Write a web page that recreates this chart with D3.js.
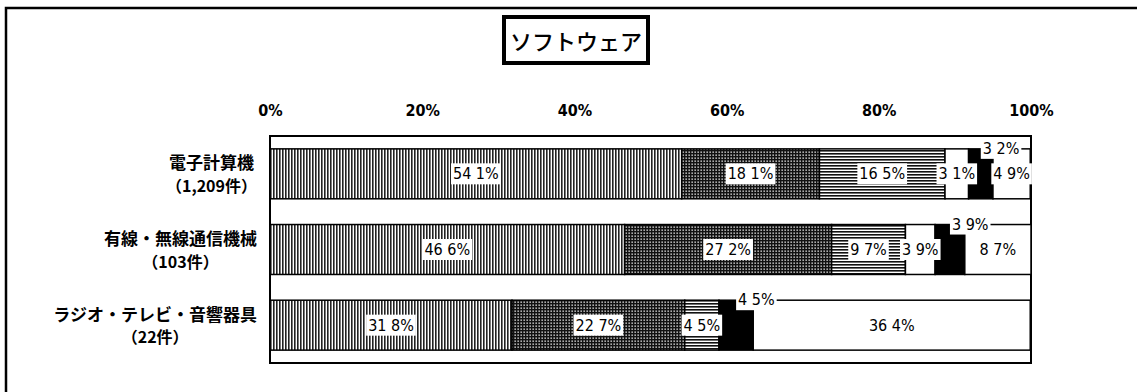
<!DOCTYPE html>
<html lang="ja">
<head>
<meta charset="UTF-8">
<title>ソフトウェア</title>
<script src="https://d3js.org/d3.v7.min.js"></script>
<style>
  body { margin: 0; background: #fff; }
  .jp { font-family: "Noto Sans CJK JP", sans-serif; }
  .num { font-family: "DejaVu Sans Condensed", "Liberation Sans", sans-serif; font-stretch: condensed; }
</style>
</head>
<body>
<svg id="chart"></svg>
<script>
// data
const categories = ["電子計算機", "有線・無線通信機械", "ラジオ・テレビ・音響器具"];
const counts = ["（1,209件）", "（103件）", "（22件）"];
const s1 = [54.1, 46.6, 31.8];
const s2 = [18.1, 27.2, 22.7];
const s3 = [16.5, 9.7, 4.5];
const s4 = [3.1, 3.9, 0];
const s5 = [3.2, 3.9, 4.5];
const s6 = [4.9, 8.7, 36.4];
const tickValues = [0, 20, 40, 60, 80, 100];
const title = "ソフトウェア";

const series = [s1, s2, s3, s4, s5, s6];
const fills = ["url(#vstripe)", "url(#grid)", "url(#hstripe)", "#fff", "#000", "#fff"];

const width = 1137, height = 392;
const plot = { left: 270, right: 1031, top: 136, bottom: 363 };

const svg = d3.select("#chart").attr("width", width).attr("height", height);

// patterns
const defs = svg.append("defs");
const pv = defs.append("pattern").attr("id", "vstripe")
  .attr("patternUnits", "userSpaceOnUse").attr("width", 3).attr("height", 8);
pv.append("rect").attr("width", 3).attr("height", 8).attr("fill", "#fff");
pv.append("rect").attr("width", 1.6).attr("height", 8).attr("fill", "#222");

const pg = defs.append("pattern").attr("id", "grid")
  .attr("patternUnits", "userSpaceOnUse").attr("width", 3).attr("height", 3);
pg.append("rect").attr("width", 3).attr("height", 3).attr("fill", "#111");
pg.append("rect").attr("x", 1.5).attr("y", 1.5).attr("width", 1.3).attr("height", 1.3).attr("fill", "#fff");

const ph = defs.append("pattern").attr("id", "hstripe")
  .attr("patternUnits", "userSpaceOnUse").attr("width", 8).attr("height", 3);
ph.append("rect").attr("width", 8).attr("height", 3).attr("fill", "#fff");
ph.append("rect").attr("width", 8).attr("height", 1.6).attr("fill", "#111");

// outer frame (runs off the right and bottom)
svg.append("rect").attr("x", 6).attr("y", 8).attr("width", 1150).attr("height", 400)
  .attr("fill", "none").attr("stroke", "#000").attr("stroke-width", 2.5);

// title box
const tg = svg.append("g");
tg.append("rect").attr("x", 504).attr("y", 17).attr("width", 144).attr("height", 46)
  .attr("fill", "#fff").attr("stroke", "#000").attr("stroke-width", 4);
tg.append("text").attr("class", "jp").attr("x", 576).attr("y", 40)
  .attr("text-anchor", "middle").attr("dominant-baseline", "central")
  .attr("font-size", 22).attr("font-weight", 500).text(title);

// scales
const x = d3.scaleLinear().domain([0, 100]).range([plot.left, plot.right]);
const y = d3.scaleBand().domain(d3.range(categories.length))
  .range([plot.top, plot.bottom]).paddingInner(0.34).paddingOuter(0.17);

// top axis labels
const axis = d3.axisTop(x).tickValues(tickValues).tickSize(0).tickFormat(d => d + "%");
svg.append("g").attr("transform", `translate(0,${119})`).call(axis)
  .call(g => g.select(".domain").remove())
  .selectAll("text").attr("class", "num").attr("font-size", 16)
  .attr("font-weight", "bold").attr("fill", "#000");

// plot frame
svg.append("rect").attr("x", plot.left).attr("y", plot.top)
  .attr("width", plot.right - plot.left).attr("height", plot.bottom - plot.top)
  .attr("fill", "#fff").attr("stroke", "#000").attr("stroke-width", 2);

// stacked segments
const segs = [];
categories.forEach((c, i) => {
  let acc = 0;
  series.forEach((s, k) => {
    segs.push({ row: i, k: k, v: s[i], x0: acc, x1: acc + s[i] });
    acc += s[i];
  });
});

svg.append("g").selectAll("rect").data(segs.filter(d => d.v > 0)).join("rect")
  .attr("x", d => x(d.x0)).attr("y", d => y(d.row))
  .attr("width", d => x(d.x1) - x(d.x0)).attr("height", y.bandwidth())
  .attr("fill", d => fills[d.k]).attr("stroke", "#000").attr("stroke-width", 1.5);

// value labels
const fmt = v => d3.format(".1f")(v).replace(".", " ") + "%";
const lg = svg.append("g");
segs.filter(d => d.v > 0).forEach(d => {
  const g = lg.append("g");
  const outside = d.k === 4;
  const t = g.append("text").attr("class", "num").attr("font-size", 16).attr("fill", "#000")
    .text(fmt(d.v));
  if (outside) {
    t.attr("x", x((d.x0 + d.x1) / 2) + 2).attr("y", y(d.row) + 5).attr("text-anchor", "start");
  } else {
    t.attr("x", x((d.x0 + d.x1) / 2)).attr("y", y(d.row) + y.bandwidth() / 2)
      .attr("text-anchor", "middle").attr("dominant-baseline", "central");
  }
  const b = t.node().getBBox();
  g.insert("rect", "text").attr("x", b.x - 2).attr("y", b.y - 1)
    .attr("width", b.width + 4).attr("height", b.height + 2).attr("fill", "#fff");
});

// category labels, two centred lines, block right-aligned
const cg = svg.append("g");
categories.forEach((c, i) => {
  const cy = y(i) + y.bandwidth() / 2;
  const g = cg.append("g");
  const t1 = g.append("text").attr("class", "jp").attr("font-size", 17).attr("font-weight", "bold")
    .attr("y", cy - 12).attr("dominant-baseline", "central").attr("text-anchor", "middle").text(c);
  const t2 = g.append("text").attr("class", "jp").attr("font-size", 16).attr("font-weight", "bold")
    .attr("y", cy + 11).attr("dominant-baseline", "central").attr("text-anchor", "middle").text(counts[i]);
  const w = Math.max(t1.node().getComputedTextLength(), t2.node().getComputedTextLength());
  g.selectAll("text").attr("x", 257 - w / 2);
});
</script>
</body>
</html>
